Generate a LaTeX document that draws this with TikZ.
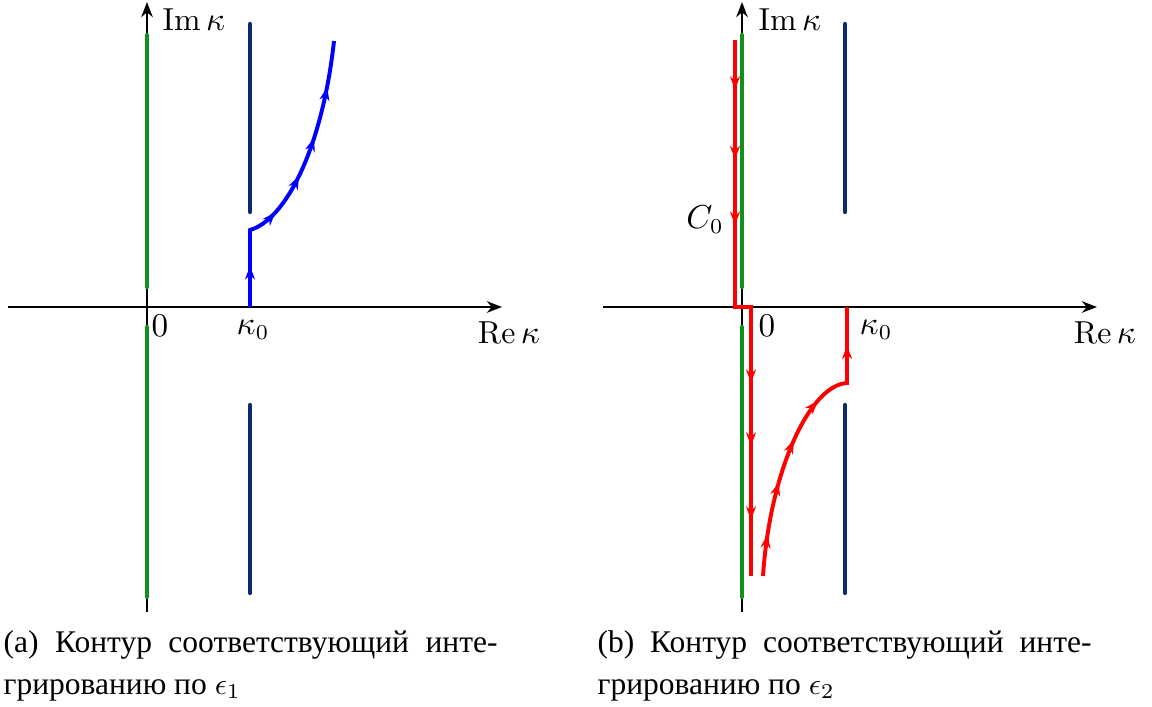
\documentclass[tikz,border=0pt]{standalone}
\usepackage{fontspec}
\usepackage{amsmath}
\newfontfamily\capfont{Liberation Serif}
\usetikzlibrary{
  arrows.meta,
  positioning,
  calc,
  decorations.markings
}
\definecolor{cxGreen}{HTML}{12911A}
\definecolor{cxCut}{HTML}{0A2A72}
\definecolor{cxBlue}{HTML}{0000FF}
\definecolor{cxRed}{HTML}{FF0000}
\tikzset{
  axis/.style={-{Stealth[length=5pt, width=3.8pt]}, line width=0.7pt, black},
  branch/.style={line width=1.4pt, cxGreen, line cap=round},
  cut/.style={line width=1.4pt, cxCut, line cap=round},
  contour/.style={line width=1.3pt, line join=miter},
  midtip/.style={postaction={decorate, decoration={markings,
      mark=at position #1 with {\arrow{Stealth[length=4.4pt, width=3.3pt]}}}}},
  lbl/.style={font=\fontsize{10.5}{12}\selectfont, inner sep=0pt},
  capline/.style={anchor=base west, inner sep=0pt, font=\capfont\fontsize{10.4}{12}\selectfont}
}
\begin{document}
\begin{tikzpicture}[x=0.33pt, y=-0.33pt]
  \useasboundingbox (0,0) rectangle (1152,706);

  % panel (a)
  \draw[axis] (8,307) -- (502,307);
  \draw[axis] (147,612) -- (147,2);
  \draw[branch] (147,35) -- (147,287);
  \draw[branch] (147,327) -- (147,597);
  \foreach \ya/\yb in {24/212,405/593}{\draw[cut] (250,\ya) -- (250,\yb);}
  \coordinate (ka) at (250,307);
  \draw[contour, cxBlue, midtip=0.14, midtip=0.37, midtip=0.52, midtip=0.66, midtip=0.84]
    (ka) -- (250,230) .. controls (285,220) and (322,150) .. (334,41);
  \node[lbl, anchor=west] (ima) at (162,20) {$\mathrm{Im}\,\kappa$};
  \node[lbl] (zeroa) at (160,326) {$0$};
  \node[lbl] (k0a) at (253,330) {$\kappa_0$};
  \node[lbl] (rea) at (509,333) {$\mathrm{Re}\,\kappa$};
  \node[capline] (capa1) at (3,652) {\makebox[163pt][s]{(a) Контур соответствующий инте-}};
  \node[capline] (capa2) at (3,694) {грированию по $\epsilon_1$};

  % panel (b)
  \draw[axis] (603,307) -- (1097,307);
  \draw[axis] (742,612) -- (742,2);
  \draw[branch] (742,35) -- (742,287);
  \draw[branch] (742,327) -- (742,597);
  \foreach \ya/\yb in {24/212,405/593}{\draw[cut] (845,\ya) -- (845,\yb);}
  \coordinate (kb) at (847,307);
  \draw[contour, cxRed, midtip=0.09, midtip=0.216, midtip=0.335, midtip=0.65, midtip=0.764, midtip=0.898]
    (735,40) -- (735,307) -- (751,307) -- (751,576);
  \draw[contour, cxRed, midtip=0.14, midtip=0.32, midtip=0.47, midtip=0.625, midtip=0.87]
    (763,576) .. controls (770,470) and (810,385) .. (847,383) -- (kb);
  \node[lbl, anchor=west] (imb) at (758,20) {$\mathrm{Im}\,\kappa$};
  \node[lbl] (zerob) at (767,326) {$0$};
  \node[lbl] (k0b) at (876,330) {$\kappa_0$};
  \node[lbl] (reb) at (1105,333) {$\mathrm{Re}\,\kappa$};
  \node[lbl] (c0) at (705,220) {$C_0$};
  \node[capline] (capb1) at (597,652) {\makebox[163pt][s]{(b) Контур соответствующий инте-}};
  \node[capline] (capb2) at (597,694) {грированию по $\epsilon_2$};
\end{tikzpicture}
\end{document}
